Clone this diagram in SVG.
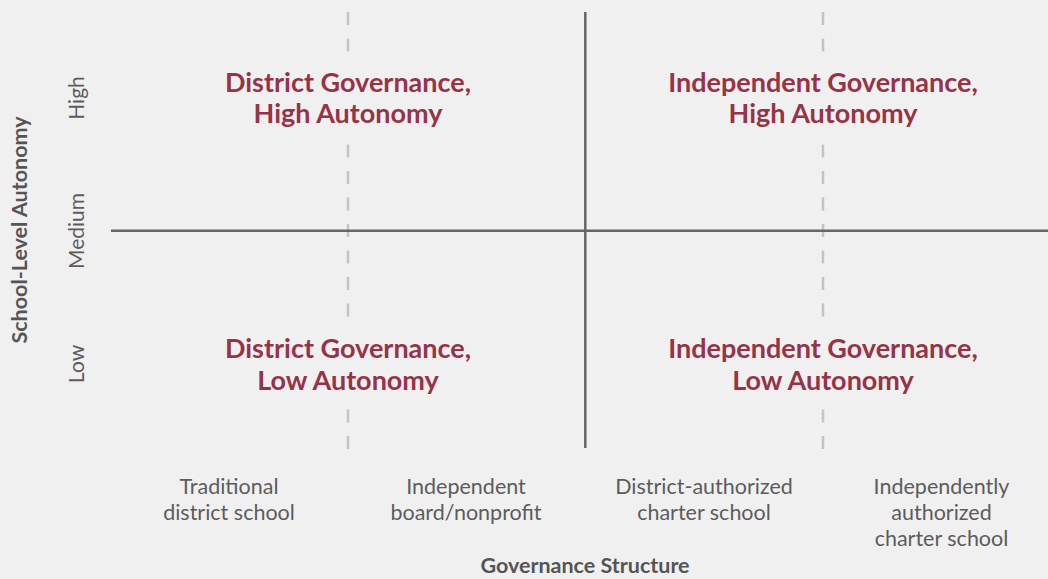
<svg xmlns="http://www.w3.org/2000/svg" width="1048" height="579" viewBox="0 0 1048 579">
<style>
.bg{fill:#f0f0f0}
.mask{fill:#f0f0f0}
.axis{stroke:#666;stroke-width:2.5;fill:none}
.dash{stroke:#c4c4c4;stroke-width:2.5;stroke-dasharray:13 13.5;fill:none}
.q{font-family:Lato,"Liberation Sans",sans-serif;font-weight:bold;font-size:27px;fill:#973347;text-anchor:middle}
.lab{font-family:Lato,"Liberation Sans",sans-serif;font-size:21.5px;fill:#5c5c5c;text-anchor:middle}
.ylab{font-family:Lato,"Liberation Sans",sans-serif;font-size:21px;fill:#5c5c5c;text-anchor:middle}
.title{font-family:Lato,"Liberation Sans",sans-serif;font-weight:bold;font-size:21.5px;fill:#555;text-anchor:middle}
</style>
<rect class="bg" width="1048" height="579"/>
<g id="connectors">
<line class="dash" x1="348" y1="12" x2="348" y2="450"/>
<line class="dash" x1="823" y1="12" x2="823" y2="450"/>
<line class="axis" x1="585.3" y1="12" x2="585.3" y2="448"/>
<line class="axis" x1="111" y1="230.8" x2="1048" y2="230.8"/>
</g>
<g id="q-district-high">
<rect class="mask" x="215" y="58" width="266" height="82"/>
<text class="q" x="348" y="91.5">District Governance,</text>
<text class="q" x="348" y="123">High Autonomy</text>
</g>
<g id="q-independent-high">
<rect class="mask" x="660" y="58" width="326" height="82"/>
<text class="q" x="823" y="91.5">Independent Governance,</text>
<text class="q" x="823" y="123">High Autonomy</text>
</g>
<g id="q-district-low">
<rect class="mask" x="215" y="320" width="266" height="84"/>
<text class="q" x="348" y="358">District Governance,</text>
<text class="q" x="348" y="389.5">Low Autonomy</text>
</g>
<g id="q-independent-low">
<rect class="mask" x="660" y="320" width="326" height="84"/>
<text class="q" x="823" y="358">Independent Governance,</text>
<text class="q" x="823" y="389.5">Low Autonomy</text>
</g>
<g id="y-axis">
<text class="title" transform="translate(27,230) rotate(-90)">School-Level Autonomy</text>
<text class="ylab" transform="translate(84,98) rotate(-90)">High</text>
<text class="ylab" transform="translate(84,231) rotate(-90)">Medium</text>
<text class="ylab" transform="translate(84,364) rotate(-90)">Low</text>
</g>
<g id="x-axis">
<text class="lab" x="229" y="494">Traditional</text>
<text class="lab" x="229" y="520">district school</text>
<text class="lab" x="466" y="494">Independent</text>
<text class="lab" x="466" y="520">board/nonprofit</text>
<text class="lab" x="704" y="494">District-authorized</text>
<text class="lab" x="704" y="520">charter school</text>
<text class="lab" x="941.5" y="494">Independently</text>
<text class="lab" x="941.5" y="520">authorized</text>
<text class="lab" x="941.5" y="546">charter school</text>
<text class="title" x="585" y="573">Governance Structure</text>
</g>
</svg>
